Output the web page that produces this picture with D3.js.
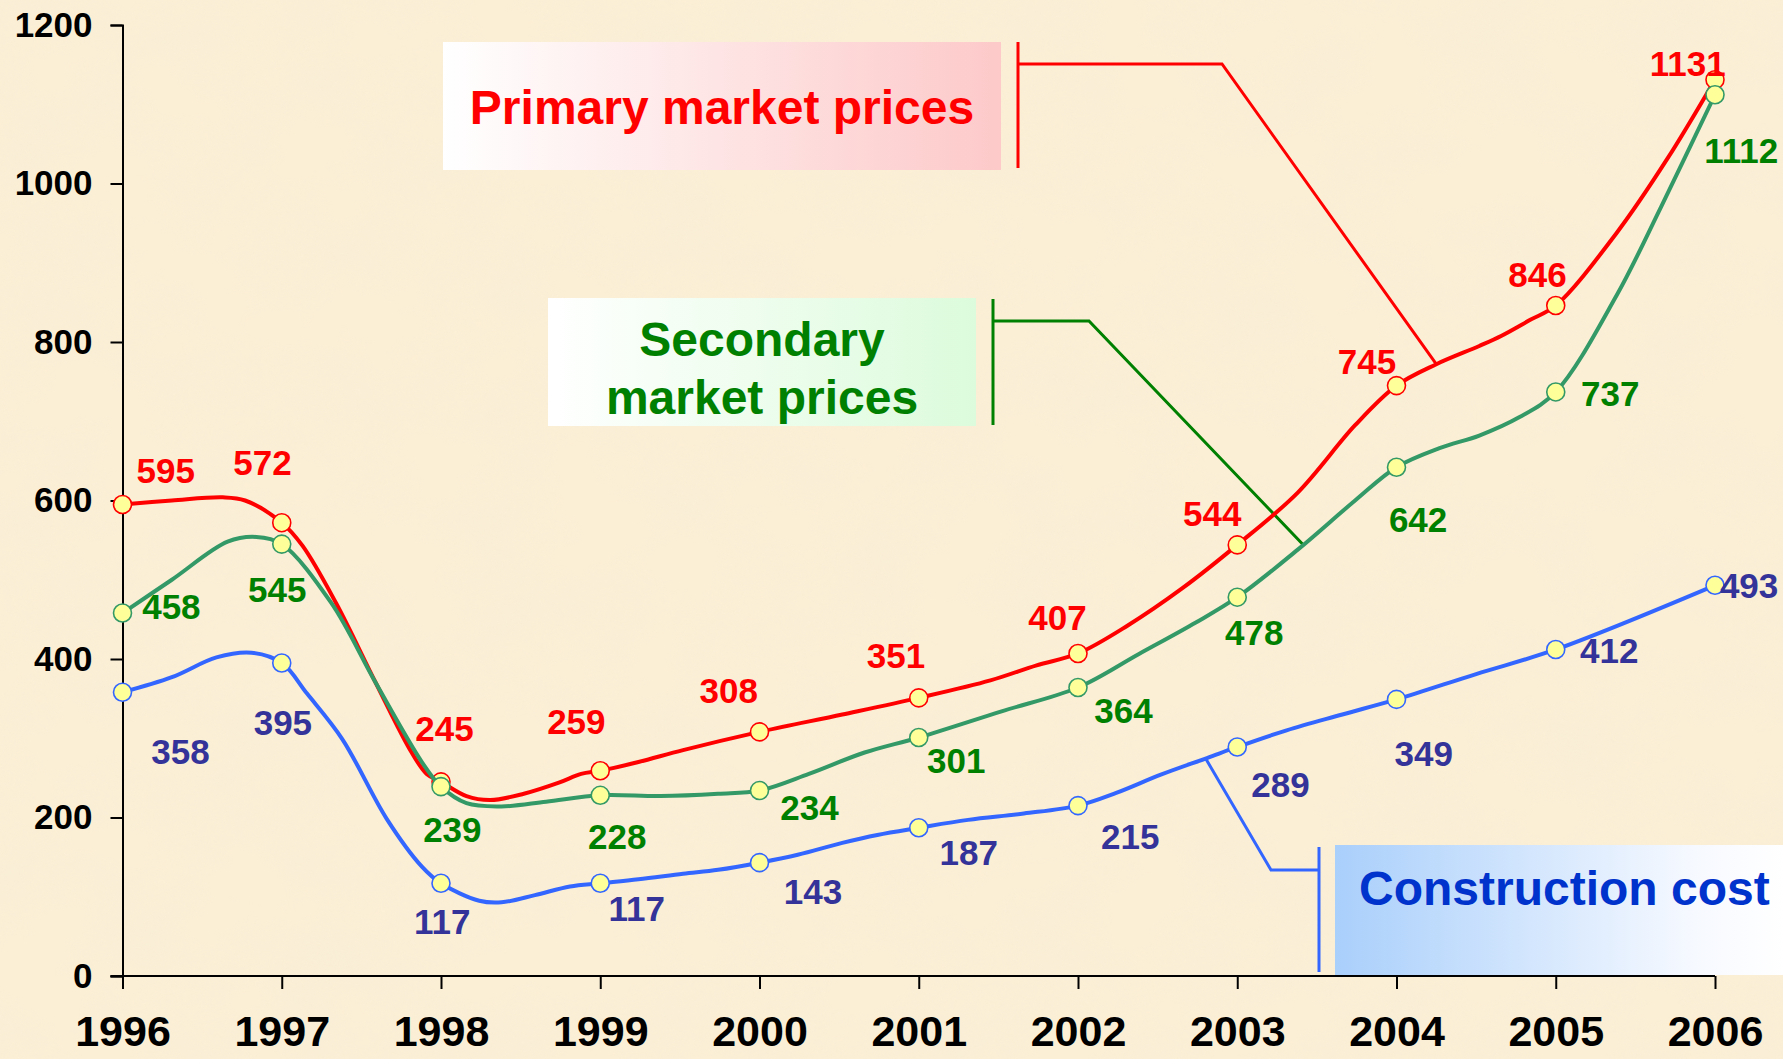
<!DOCTYPE html>
<html><head><meta charset="utf-8">
<script src="https://cdn.jsdelivr.net/npm/d3@7"></script>
<style>html,body{margin:0;padding:0;background:#fbefd6;}svg{display:block;}</style>
</head><body>
<svg id="chart" width="1783" height="1059"></svg>
<script>
// ---------------- DATA ----------------
const years = [1996,1997,1998,1999,2000,2001,2002,2003,2004,2005,2006];
const yTicks = [0,200,400,600,800,1000,1200];
const primary      = [595,572,245,259,308,351,407,544,745,846,1131];
const secondary    = [458,545,239,228,234,301,364,478,642,737,1112];
const construction = [358,395,117,117,143,187,215,289,349,412,493];
// intermediate points of the drawn (smoothed) lines
const primaryPath = [[1996.31,600],[1996.63,604],[1996.77,600],[1997.13,543],[1997.34,471],[1997.59,370],[1997.81,284],[1997.91,255],[1998.16,227],[1998.31,222],[1998.52,230],[1998.74,244],[1998.88,255],[1999.24,270],[1999.52,285],[2000.52,330],[2001.45,373],[2001.74,392],[2002.31,442],[2002.66,490],[2003.38,610],[2003.74,695],[2004.25,772],[2004.52,795],[2004.66,808],[2004.84,828],[2005.38,937],[2005.70,1031]];
const secondaryPath = [[1996.31,500],[1996.66,548],[1996.84,554],[1997.31,471],[1997.59,370],[1997.88,270],[1998.16,218],[1998.38,214],[1998.66,220],[1999.38,227],[1999.74,230],[2000.31,255],[2000.66,282],[2001.52,334],[2002.38,406],[2002.74,446],[2003.38,538],[2003.74,600],[2004.27,666],[2004.52,682],[2004.77,705],[2005.38,858],[2005.66,970]];
const constructionPath = [[1996.31,377],[1996.59,402],[1996.81,408],[1997.16,356],[1997.38,299],[1997.66,198],[1997.88,138],[1998.24,95],[1998.38,93],[1998.59,102],[1998.81,113],[1999.24,122],[1999.52,129],[1999.74,134],[2000.24,153],[2000.52,168],[2000.74,178],[2001.31,197],[2001.66,205],[2002.24,231],[2002.52,254],[2002.81,275],[2003.31,310],[2003.66,330],[2004.5,381]];
const seriesNames = ["Primary market prices", "Secondary market prices", "Construction cost"];

// ---------------- LAYOUT ----------------
const k = 1.137;
const labelOffsets = {
  primary: [[38,-30],[-17,-53],[3,-47],[-21,-43],[-27,-36],[-20,-37],[-18,-32],[-22,-28],[-26,-21],[-16,-27],[-24,-14]],
  secondary: [[43,-6],[-4,40],[10,38],[15,36],[44,15],[33,20],[40,20],[15,31],[19,46],[48,1],[23,49]],
  construction: [[51,52],[1,52],[1,34],[32,22],[47,25],[44,22],[46,27],[38,33],[24,48],[47,1],[30,0]]
};

const svg = d3.select("#chart");
const W = 1783, H = 1059;
const FONT = "'Liberation Sans', Arial, Helvetica, sans-serif";

const defs = svg.append("defs");
const f = defs.append("filter").attr("id","paper").attr("x",0).attr("y",0).attr("width","100%").attr("height","100%");
f.append("feTurbulence").attr("type","fractalNoise").attr("baseFrequency","0.011 0.014").attr("numOctaves",4).attr("seed",7).attr("result","n");
f.append("feColorMatrix").attr("type","matrix")
  .attr("values","0 0 0 0 0.93  0 0 0 0 0.84  0 0 0 0 0.67  1.3 0 0 0 -0.5");

function grad(id, stops) {
  const g = defs.append("linearGradient").attr("id", id).attr("x1","0%").attr("x2","100%").attr("y1","0%").attr("y2","0%");
  stops.forEach(s => g.append("stop").attr("offset", s[0]).attr("stop-color", s[1]));
}
grad("gPrimary", [["0%","#ffffff"],["100%","#fdc9c9"]]);
grad("gSecondary", [["0%","#ffffff"],["100%","#dcfbdc"]]);
grad("gConstruction", [["0%","#a9cffb"],["80%","#f6f9ff"],["100%","#ffffff"]]);

svg.append("rect").attr("width",W).attr("height",H).attr("fill","#fbefd6");
svg.append("rect").attr("width",W).attr("height",H).attr("filter","url(#paper)").attr("opacity",0.6);

const x = d3.scaleLinear().domain([1996,2006]).range([122.5,1715]);
const y = d3.scaleLinear().domain([0,1200]).range([976,25]);

// axes
const yAxis = svg.append("g").attr("transform",`translate(${x(1996)},0)`)
  .call(d3.axisLeft(y).tickValues(yTicks).tickSize(12).tickPadding(18).tickFormat(d3.format("d")));
yAxis.selectAll("text").attr("font-family",FONT).attr("font-weight","bold").attr("font-size",35).attr("fill","#000");
const xAxis = svg.append("g").attr("transform",`translate(0,${y(0)})`)
  .call(d3.axisBottom(x).tickValues(years).tickSize(13).tickPadding(26).tickFormat(d3.format("d")));
xAxis.selectAll("text").attr("font-family",FONT).attr("font-weight","bold").attr("font-size",43).attr("fill","#000");
[yAxis,xAxis].forEach(a => { a.select(".domain").attr("stroke","#000").attr("stroke-width",2); a.selectAll(".tick line").attr("stroke","#000").attr("stroke-width",2); });
xAxis.select(".domain").attr("d",`M${x(1996)-12},0H${x(2006)}`);

// legend boxes with callouts
function callout(color, pts) {
  svg.append("path").attr("d", d3.line()(pts)).attr("fill","none").attr("stroke",color).attr("stroke-width",3);
}
// Primary
svg.append("rect").attr("x",443).attr("y",42).attr("width",558).attr("height",128).attr("fill","url(#gPrimary)");
svg.append("text").attr("x",722).attr("y",107).attr("text-anchor","middle").attr("dominant-baseline","central")
  .attr("font-family",FONT).attr("font-weight","bold").attr("font-size",48).attr("fill","#ff0000").text(seriesNames[0]);
callout("#ff0000", [[1018,42],[1018,168]]);
callout("#ff0000", [[1018,64],[1222,64],[x(2004.25),y(772)]]);
// Secondary
svg.append("rect").attr("x",548).attr("y",298).attr("width",428).attr("height",128).attr("fill","url(#gSecondary)");
const st = svg.append("text").attr("text-anchor","middle").attr("font-family",FONT).attr("font-weight","bold").attr("font-size",48).attr("fill","#008000");
st.append("tspan").attr("x",762).attr("y",356).text("Secondary");
st.append("tspan").attr("x",762).attr("y",414).text("market prices");
callout("#008000", [[993,299],[993,425]]);
callout("#008000", [[993,321],[1089,321],[x(2003.42),y(543)]]);
// Construction
svg.append("rect").attr("x",1335).attr("y",845).attr("width",448).attr("height",130).attr("fill","url(#gConstruction)");
svg.append("text").attr("x",1359).attr("y",888).attr("dominant-baseline","central")
  .attr("font-family",FONT).attr("font-weight","bold").attr("font-size",48).attr("fill","#0033cc").text(seriesNames[2]);
callout("#3366ff", [[1319,847],[1319,972]]);
callout("#3366ff", [[1319,870],[1271,870],[x(2002.80),y(275)]]);

// series
const series = [
  {vals: primary, path: primaryPath, line: "#ff0000", label: "#ff0000", off: labelOffsets.primary},
  {vals: secondary, path: secondaryPath, line: "#339966", label: "#008000", off: labelOffsets.secondary},
  {vals: construction, path: constructionPath, line: "#3366ff", label: "#333399", off: labelOffsets.construction}
];
const lineGen = d3.line().x(d => x(d[0])).y(d => y(d[1])).curve(d3.curveCatmullRom.alpha(0.5));
series.forEach(s => {
  const pts = years.map((yr,i) => [yr, s.vals[i]]).concat(s.path).sort((a,b) => a[0]-b[0]);
  svg.append("path").attr("d", lineGen(pts)).attr("fill","none").attr("stroke",s.line).attr("stroke-width",4).attr("stroke-linejoin","round");
  svg.append("g").selectAll("circle").data(years).join("circle")
    .attr("cx", d => x(d)).attr("cy", (d,i) => y(s.vals[i])).attr("r",9)
    .attr("fill","#ffff99").attr("stroke",s.line).attr("stroke-width",1.6);
});
series.forEach(s => {
  svg.append("g").selectAll("text").data(years).join("text")
    .attr("x", (d,i) => x(d) + s.off[i][0]*k).attr("y", (d,i) => y(s.vals[i]) + s.off[i][1]*k)
    .attr("text-anchor","middle").attr("dominant-baseline","central")
    .attr("font-family",FONT).attr("font-weight","bold").attr("font-size",35).attr("fill",s.label)
    .text((d,i) => s.vals[i]);
});
</script>
</body></html>
